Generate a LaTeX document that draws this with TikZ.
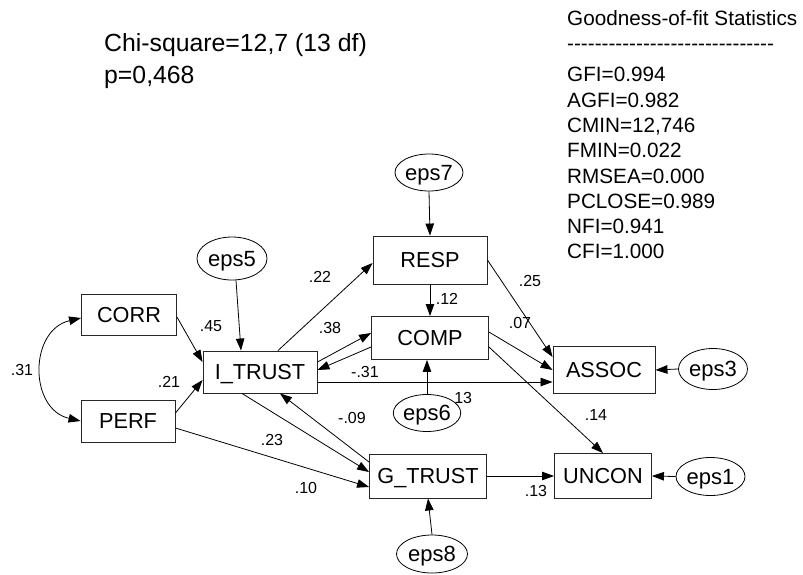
\documentclass[tikz,border=0pt]{standalone}
\usepackage{fontspec}
\setmainfont{Liberation Sans}
\usetikzlibrary{arrows.meta,shapes.geometric,calc}

\tikzset{
  var/.style={draw=black!85, line width=0.9pt, rectangle, inner sep=0pt,
    font=\fontsize{21.7}{26}\selectfont, text height=15.5pt, text depth=0pt},
  err/.style={draw=black, line width=0.8pt, ellipse, inner sep=0pt, fill=white,
    font=\fontsize{22}{26}\selectfont, text height=15.8pt, text depth=0pt},
  tip/.style={Triangle[length=12pt,width=8.5pt]},
  link/.style={-{Triangle[length=12pt,width=8.5pt]}, line width=0.8pt},
  twoway/.style={{Triangle[length=12pt,width=8.5pt]}-{Triangle[length=12pt,width=8.5pt]}, line width=0.8pt},
  coef/.style={font=\fontsize{16}{19}\selectfont, inner sep=0pt},
  stat/.style={font=\fontsize{20.7}{25}\selectfont, inner sep=0pt, anchor=base west},
  head/.style={font=\fontsize{24.8}{30}\selectfont, inner sep=0pt, anchor=base west},
}

\begin{document}
\begin{tikzpicture}[x=1pt,y=-1pt]
\useasboundingbox (0,0) rectangle (803,574);
\fill[white] (0,0) rectangle (803,574);

% fit summary
\node[head] (chi) at (104,51.5) {Chi-square=12,7 (13 df)};
\node[head] (pval) at (104,83) {p=0,468};

\node[stat] (gof) at (567,25.7) {Goodness-of-fit Statistics};
\node[stat] (rule) at (567,50.5) {\foreach \k in {1,...,30}{\mbox{-}}};
\node[stat] (gfi)    at (567,81.8)  {GFI=0.994};
\node[stat] (agfi)   at (567,107.1) {AGFI=0.982};
\node[stat] (cmin)   at (567,132.4) {CMIN=12,746};
\node[stat] (fmin)   at (567,157.7) {FMIN=0.022};
\node[stat] (rmsea)  at (567,183.0) {RMSEA=0.000};
\node[stat] (pclose) at (567,208.3) {PCLOSE=0.989};
\node[stat] (nfi)    at (567,233.6) {NFI=0.941};
\node[stat] (cfi)    at (567,258.9) {CFI=1.000};

% observed variables
\node[var, minimum width=95pt, minimum height=41pt] (corr) at (129,315) {CORR};
\node[var, minimum width=94pt, minimum height=42pt] (perf) at (128,421) {PERF};
\node[var, minimum width=114pt, minimum height=42pt] (itrust) at (260,372) {I\_TRUST};
\node[var, minimum width=114pt, minimum height=48pt] (resp) at (430,260) {RESP};
\node[var, minimum width=117pt, minimum height=43pt] (comp) at (430,338) {COMP};
\node[var, minimum width=117pt, minimum height=44pt] (gtrust) at (428,476) {G\_TRUST};
\node[var, minimum width=102pt, minimum height=47pt] (assoc) at (604,370) {ASSOC};
\node[var, minimum width=97pt, minimum height=45pt] (uncon) at (603,476) {UNCON};

% label partly covered by the eps6 ellipse
\node[coef] (l13a) at (461,398) {.13};

% error terms
\node[err, minimum width=70pt, minimum height=43pt] (eps5) at (232,258.5) {eps5};
\node[err, minimum width=68pt, minimum height=37pt] (eps7) at (429,172.5) {eps7};
\node[err, minimum width=67pt, minimum height=37pt] (eps6) at (427,413) {eps6};
\node[err, minimum width=71pt, minimum height=38pt] (eps8) at (432,554) {eps8};
\node[err, minimum width=69pt, minimum height=41pt] (eps3) at (713,369) {eps3};
\node[err, minimum width=69pt, minimum height=38pt] (eps1) at (710.5,476.5) {eps1};

% paths
\draw[twoway] ([yshift=-3pt]corr.west) .. controls +(-52,12) and +(-52,-12) .. (perf.west);
\draw[link] ([yshift=-2pt]corr.east) -- ([yshift=10pt]itrust.west);
\draw[link] ([yshift=8pt]perf.east) -- ([yshift=-8pt]itrust.west);
\draw[link] ([yshift=-7pt]perf.east) -- ([yshift=-11pt]gtrust.west);
\draw[link] ([xshift=-18pt]itrust.south) -- ([yshift=4pt]gtrust.west);
\draw[link] ([yshift=14pt]gtrust.west) -- ([xshift=20pt]itrust.south);
\draw[link] ([xshift=4pt]eps5.south) -- ([xshift=-19pt]itrust.north);
\draw[link] ([xshift=18pt]itrust.north) -- ([yshift=-3pt]resp.west);
\draw[link] ([yshift=10pt]itrust.east) -- ([yshift=5pt]comp.west);
\draw[link] ([yshift=-9pt]comp.west) -- ([yshift=2pt]itrust.east);
\draw[link] ([yshift=-10pt]itrust.east) -- ([yshift=-12pt]assoc.west);
\draw[link] (eps7.south) -- (resp.north);
\draw[link] (resp.south) -- (comp.north);
\draw[link] (resp.east) -- ([yshift=13pt]assoc.west);
\draw[link] ([yshift=6pt]comp.east) -- (assoc.west);
\draw[link] ([yshift=-9pt]comp.east) -- (uncon.north);
\draw[link] (eps6.north) -- (eps6.north |- comp.south);
\draw[link] (gtrust.east) -- (uncon.west);
\draw[link] (eps8.north) -- (gtrust.south);
\draw[link] (eps3.west) -- (assoc.east);
\draw[link] (eps1.west) -- (uncon.east);

% coefficients
\node[coef] (l31)  at (22,370)  {.31};
\node[coef] (l45)  at (211,326) {.45};
\node[coef] (l21)  at (169,382) {.21};
\node[coef] (l22)  at (320,277) {.22};
\node[coef] (l38)  at (330,328) {.38};
\node[coef] (l12)  at (447,299) {.12};
\node[coef] (l25)  at (530,281) {.25};
\node[coef] (l07)  at (520,323) {.07};
\node[coef] (lm31) at (365,372) {-.31};
\node[coef] (lm09) at (352,418) {-.09};
\node[coef] (l23)  at (272,440) {.23};
\node[coef] (l10)  at (306,488) {.10};
\node[coef] (l14)  at (596,415) {.14};
\node[coef] (l13b) at (536,491) {.13};
\end{tikzpicture}
\end{document}
